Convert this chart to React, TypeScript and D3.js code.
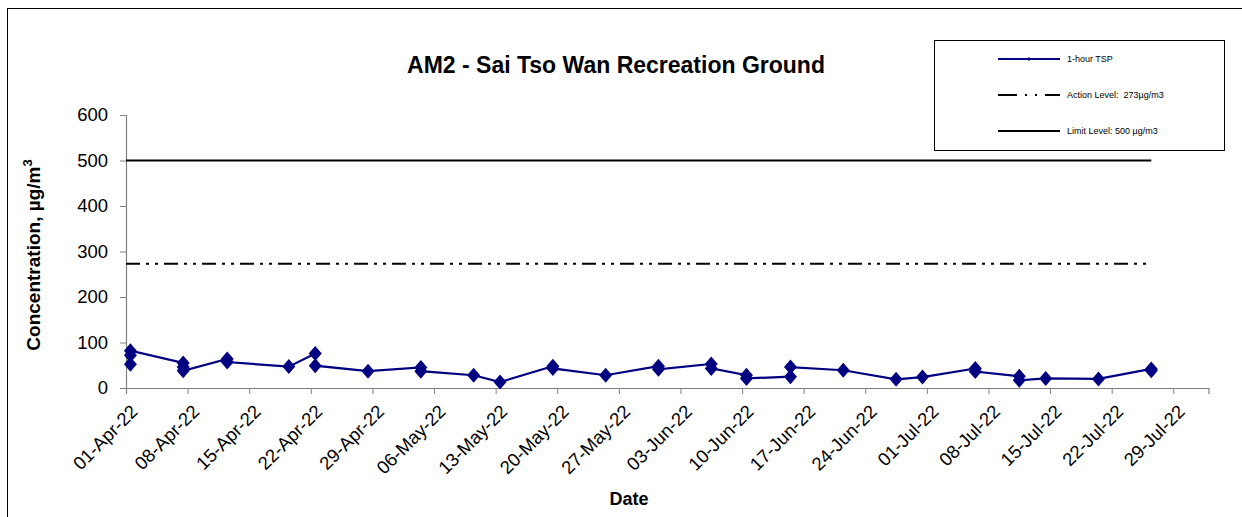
import React, { useRef, useEffect } from 'react';
import * as d3 from 'd3';

const sampleDates = [
  '2022-04-01', '2022-04-01', '2022-04-01',
  '2022-04-07', '2022-04-07', '2022-04-07',
  '2022-04-12', '2022-04-12',
  '2022-04-19',
  '2022-04-22', '2022-04-22',
  '2022-04-28',
  '2022-05-04', '2022-05-04',
  '2022-05-10',
  '2022-05-13',
  '2022-05-19', '2022-05-19',
  '2022-05-25',
  '2022-05-31', '2022-05-31',
  '2022-06-06', '2022-06-06',
  '2022-06-10', '2022-06-10',
  '2022-06-15', '2022-06-15',
  '2022-06-21',
  '2022-06-27',
  '2022-06-30',
  '2022-07-06', '2022-07-06',
  '2022-07-11', '2022-07-11',
  '2022-07-14',
  '2022-07-20',
  '2022-07-26', '2022-07-26'
];

const tspValues = [
  52, 72, 82,
  55, 46, 38,
  64, 57,
  47,
  76, 49,
  37,
  45, 37,
  28,
  13,
  48, 43,
  28,
  48, 41,
  53, 43,
  28, 21,
  25, 46,
  39,
  19,
  24,
  43, 36,
  26, 17,
  21,
  20,
  42, 38
];

const actionLevel = 273;
const limitLevel = 500;

const yTicks = [0, 100, 200, 300, 400, 500, 600];

const legendLabels = ['1-hour TSP', 'Action Level:\u00a0 273\u00b5g/m3', 'Limit Level: 500 \u00b5g/m3'];

const parseDate = d3.timeParse('%Y-%m-%d');
const fmt = d3.timeFormat('%d-%b-%y');
const FONT = '"Liberation Sans", Arial, sans-serif';
const NAVY = '#000080';

const App: React.FC = () => {
  const svgRef = useRef<SVGSVGElement>(null);
  const width = 1242;
  const height = 517;

  useEffect(() => {
    if (!svgRef.current) return;
    const root = d3.select(svgRef.current);
    root.selectAll('*').remove();

    const svg = root.attr('width', width).attr('height', height);

    // chart frame
    svg.append('rect')
      .attr('x', 7.5).attr('y', 8.5)
      .attr('width', 1240).attr('height', 520)
      .attr('fill', '#fff').attr('stroke', '#000').attr('stroke-width', 1);

    const data = sampleDates.map((d, i) => ({ date: parseDate(d)!, value: tspValues[i] }));

    // date axis, points sit in the middle of their day
    const xScale = d3.scaleTime()
      .domain([parseDate('2022-04-01')!, parseDate('2022-08-02')!])
      .range([126, 1208.5]);
    const mid = (d: Date) => xScale(d3.timeHour.offset(d, 12));

    const yScale = d3.scaleLinear().domain([0, 600]).range([388, 115]);

    const weekTicks = d3.timeDay.range(parseDate('2022-04-01')!, parseDate('2022-07-30')!, 7);

    // y axis
    const yAxis = svg.append('g')
      .attr('transform', 'translate(126,0)')
      .call(d3.axisLeft(yScale).tickValues(yTicks).tickSize(6).tickPadding(12));
    yAxis.select('.domain').attr('stroke', '#808080').attr('stroke-width', 1.2);
    yAxis.selectAll('.tick line').attr('stroke', '#808080');
    yAxis.selectAll('.tick text')
      .attr('font-family', FONT).attr('font-size', 18.5).attr('fill', '#000');

    // x axis
    const xAxis = svg.append('g')
      .attr('transform', 'translate(0,388)')
      .call(d3.axisBottom(xScale).tickValues(weekTicks).tickSizeOuter(0).tickSize(6).tickFormat(() => ''));
    xAxis.select('.domain').attr('stroke', '#808080').attr('stroke-width', 1.2);
    xAxis.selectAll('.tick line').attr('stroke', '#808080');

    svg.append('g').selectAll('text')
      .data(weekTicks)
      .enter()
      .append('text')
      .attr('transform', d => `translate(${xScale(d) + 3},${403}) rotate(-45)`)
      .attr('text-anchor', 'end')
      .attr('dy', '0.75em')
      .attr('font-family', FONT)
      .attr('font-size', 18.5)
      .text(d => fmt(d));

    const first = data[0].date;
    const last = data[data.length - 1].date;

    // limit level
    svg.append('line')
      .attr('x1', xScale(first)).attr('x2', mid(last))
      .attr('y1', yScale(limitLevel)).attr('y2', yScale(limitLevel))
      .attr('stroke', '#000').attr('stroke-width', 2);

    // action level
    svg.append('line')
      .attr('x1', xScale(first)).attr('x2', mid(last))
      .attr('y1', yScale(actionLevel)).attr('y2', yScale(actionLevel))
      .attr('stroke', '#000').attr('stroke-width', 2)
      .attr('stroke-dasharray', '14,6,3,6,3,6');

    // TSP series
    const line = d3.line<{ date: Date; value: number }>()
      .x(d => mid(d.date))
      .y(d => yScale(d.value));

    svg.append('path')
      .datum(data)
      .attr('fill', 'none')
      .attr('stroke', NAVY)
      .attr('stroke-width', 2.2)
      .attr('d', line);

    const diamond = (w: number, h: number) => `M0,${-h / 2}L${w / 2},0L0,${h / 2}L${-w / 2},0Z`;

    svg.selectAll('.marker')
      .data(data)
      .enter()
      .append('path')
      .attr('class', 'marker')
      .attr('transform', d => `translate(${mid(d.date)},${yScale(d.value)})`)
      .attr('d', diamond(13, 15))
      .attr('fill', NAVY);

    // titles
    svg.append('text')
      .attr('x', 616).attr('y', 73)
      .attr('text-anchor', 'middle')
      .attr('font-family', FONT).attr('font-size', 23).attr('font-weight', 'bold')
      .text('AM2 - Sai Tso Wan Recreation Ground');

    svg.append('text')
      .attr('x', 629).attr('y', 505)
      .attr('text-anchor', 'middle')
      .attr('font-family', FONT).attr('font-size', 18).attr('font-weight', 'bold')
      .text('Date');

    const yTitle = svg.append('text')
      .attr('transform', 'translate(40,255) rotate(-90)')
      .attr('text-anchor', 'middle')
      .attr('font-family', FONT).attr('font-size', 19).attr('font-weight', 'bold');
    yTitle.append('tspan').text('Concentration, \u00b5g/m');
    yTitle.append('tspan').attr('dy', -8).attr('font-size', 13).text('3');

    // legend
    const legend = svg.append('g');
    legend.append('rect')
      .attr('x', 934.5).attr('y', 40.5)
      .attr('width', 290).attr('height', 110)
      .attr('fill', '#fff').attr('stroke', '#000').attr('stroke-width', 1);

    const rowY = [59, 95, 131];
    legendLabels.forEach((label, i) => {
      const g = legend.append('g').attr('transform', `translate(0,${rowY[i]})`);
      const l = g.append('line')
        .attr('x1', 998).attr('x2', 1060).attr('y1', 0).attr('y2', 0)
        .attr('stroke', i === 0 ? NAVY : '#000')
        .attr('stroke-width', 2);
      if (i === 1) l.attr('stroke-dasharray', '19,8,2,8,2,8');
      if (i === 0) {
        g.append('path').attr('transform', 'translate(1029,0)').attr('d', diamond(4, 4)).attr('fill', NAVY);
      }
      g.append('text')
        .attr('x', 1067).attr('y', 0).attr('dy', '0.35em')
        .attr('font-family', FONT).attr('font-size', 9)
        .text(label);
    });
  }, []);

  return (
    <svg ref={svgRef} style={{ position: 'absolute', left: 0, top: 0 }}></svg>
  );
};

export default App;
